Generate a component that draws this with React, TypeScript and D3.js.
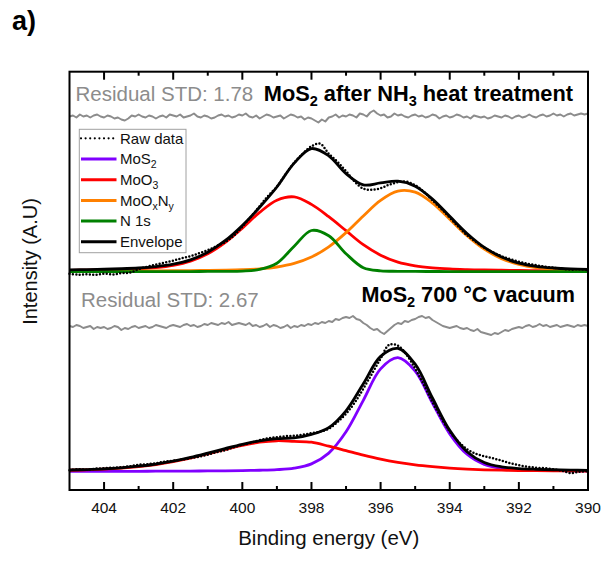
import React from 'react';
import * as d3 from 'd3';

// ---------- data ----------
const E_START = 405;
const FIT_STEP = 0.5;   // grid of fitted components (405 -> 390)
const RAW_STEP = 0.25;  // grid of raw data
const RES_STEP = 0.1;   // grid of residuals

const xTicksMajor = [404, 402, 400, 398, 396, 394, 392, 390];
const xTicksMinor = [403, 401, 399, 397, 395, 393, 391];

// Panel 1: MoS2 after NH3 heat treatment
const topMoO3 = [1.32, 1.55, 1.84, 2.25, 2.9, 4.1, 6.4, 10.6, 17.96, 29.1, 43.6, 59.3, 71.5, 74.8, 67.3, 55.0, 41.0, 27.0, 16.5, 9.5, 5.8, 3.8, 2.7, 2.1, 1.7, 1.45, 1.25, 1.09, 0.95, 0.84, 0.75];
const topN1s = [0.05, 0.05, 0.06, 0.07, 0.08, 0.1, 0.13, 0.17, 0.23, 0.32, 0.61, 2.23, 8.5, 25.5, 41.2, 36.0, 18.0, 4.0, 0.9, 0.41, 0.27, 0.2, 0.15, 0.12, 0.1, 0.08, 0.07, 0.06, 0.05, 0.05, 0.04];
const topMoOxNy = [0.46, 0.51, 0.57, 0.63, 0.72, 0.81, 0.93, 1.08, 1.28, 1.56, 2.03, 2.91, 4.7, 8.23, 14.6, 24.9, 39.1, 55.8, 71.4, 80.6, 79.5, 68.6, 52.5, 36.0, 22.5, 13.1, 7.3, 4.2, 2.7, 1.9, 1.5];
const topRaw = [-2.0, -3.0, -2.5, -3.2, -2.0, -2.8, -1.5, -1.0, 2.5, 5.0, 7.0, 9.0, 11.0, 13.5, 15.5, 18.5, 21.5, 25.5, 29.5, 36.0, 45.0, 55.0, 65.5, 76.0, 85.0, 97.5, 109.0, 118.0, 125.5, 128.0, 118.0, 110.0, 100.5, 90.0, 83.0, 82.0, 83.5, 87.0, 89.5, 90.0, 86.5, 80.0, 71.5, 63.0, 54.0, 45.0, 36.5, 30.0, 24.0, 19.5, 15.5, 12.5, 10.0, 8.0, 6.5, 5.0, 4.0, 3.0, 2.0, 2.5, 1.5];
const topResidual = [
  0, 1, -1, 2, 0, 1, -1, 1, 2, 0,
  -1, 1, 0, -2, -1, -3, -4, -2, 1, 0,
  2, 0, -1, 1, 0, -2, 0, 1, -1, 2,
  1, 0, 2, -1, 0, 1, 3, 0, -1, 1,
  0, -2, -1, 1, 2, 0, 1, -1, 0, 2,
  1, 3, 0, -1, 1, -2, 0, 2, 1, -1,
  0, 1, -2, 0, 2, 1, -1, 0, -3, -1,
  -2, -4, -6, -3, -5, -1, 0, 2, -1, 1,
  0, 2, 1, -1, 3, 2, 0, 4, 6, 3,
  1, 2, -1, 0, 3, 1, 2, 0, -1, 1,
  2, 0, 1, -1, 0, 2, 1, -2, 0, 1,
  -1, 0, 2, 1, -1, 0, -2, 1, 0, -1,
  0, -2, -1, 1, 0, -1, 1, 0, -2, 0,
  1, -1, 0, 2, 0, -1, 1, 2, 0, 1,
  3, 1, 2, 0, 2, 3, 1, 2, 3, 2,
  3,
];

// Panel 2: MoS2 700 °C vacuum
const botMoS2 = [0.27, 0.30, 0.33, 0.37, 0.42, 0.48, 0.56, 0.65, 0.77, 0.92, 1.13, 1.44, 2.03, 3.54, 7.8, 18.6, 39.9, 71.4, 102.8, 114.0, 100.7, 68.7, 37.8, 17.4, 7.3, 3.36, 1.97, 1.41, 1.11, 0.91, 0.76];
const botMoO3 = [1.44, 1.87, 2.53, 3.54, 5.06, 7.19, 10.06, 13.6, 17.8, 22.2, 26.3, 29.5, 30.96, 30.3, 29.5, 25.5, 21.0, 16.5, 12.5, 9.3, 6.8, 5.0, 3.6, 2.6, 1.9, 1.5, 1.2, 1.0, 0.85, 0.75, 0.65];
const botRaw = [1.5, 2.5, 2.0, 3.0, 3.5, 4.0, 4.5, 5.5, 7.0, 7.5, 8.5, 10.0, 11.0, 12.0, 13.5, 15.0, 17.0, 19.5, 21.5, 24.5, 27.0, 29.0, 31.5, 33.5, 34.5, 35.5, 36.0, 37.0, 38.5, 40.0, 43.0, 49.5, 58.0, 69.0, 83.0, 98.0, 113.0, 127.0, 126.0, 117.0, 103.0, 87.0, 69.5, 54.0, 40.0, 30.0, 22.5, 18.0, 15.5, 13.5, 11.0, 8.5, 6.5, 5.0, 4.0, 3.5, 2.5, 1.0, -1.5, 0.0, 0.5];
const botResidual = [
  0, -1, 1, 0, -2, -1, 0, -3, -1, -2,
  -1, -3, -2, 0, -1, -4, -2, -3, -1, 0,
  -2, -1, 0, -2, -1, 1, 0, -1, -2, 0,
  1, 0, -1, 1, 2, 0, 1, -1, 0, 2,
  1, 3, 2, 1, 3, 2, 4, 1, 2, 3,
  2, 1, 3, 0, 1, -1, 0, 2, -1, 1,
  0, -2, -1, 1, -2, 0, -1, 1, 0, 2,
  1, 3, 2, 4, 3, 5, 4, 7, 6, 8,
  9, 8, 10, 7, 6, 3, 1, -2, -4, -3,
  -6, -8, -5, -2, 1, 3, 2, 5, 4, 6,
  7, 9, 10, 8, 9, 6, 4, 2, 0, -1,
  -2, -1, 0, -2, -3, -2, -4, -5, -3, -6,
  -7, -8, -9, -7, -8, -6, -4, -5, -3, -2,
  -1, -2, 0, 1, -1, 0, 2, 0, 1, -1,
  0, 1, -1, 0, 1, 0, -1, 1, 0, 1,
  0,
];

// ---------- layout ----------
const W = 603;
const H = 561;
const P = { left: 69.5, right: 588, top: 71.7, bottom: 490 };
const TOP_BASE = 271.7;
const BOT_BASE = 471.7;
const RES_LEVEL_TOP = 155.2;
const RES_LEVEL_BOT = 145.7;

const COLORS = {
  MoS2: '#8000ff',
  MoO3: '#ff0000',
  MoOxNy: '#ff8000',
  N1s: '#008000',
  env: '#000000',
  raw: '#000000',
  resid: '#8c8c8c',
  text: '#111111',
};
const FONT = '"Liberation Sans", Arial, sans-serif';

const energies = (step: number, n: number) =>
  Array.from({ length: n }, (_, i) => +(E_START - i * step).toFixed(3));

const x = d3.scaleLinear().domain([405, 390]).range([P.left, P.right]);
const yTop = d3.scaleLinear().domain([0, 200]).range([TOP_BASE, TOP_BASE - 200]);
const yBot = d3.scaleLinear().domain([0, 200]).range([BOT_BASE, BOT_BASE - 200]);

type Pt = [number, number];
const zip = (step: number, vals: number[]): Pt[] => {
  const e = energies(step, vals.length);
  return vals.map((v, i) => [e[i], v]);
};
const sum = (...arrs: number[][]) => arrs[0].map((_, i) => arrs.reduce((s, a) => s + a[i], 0));

const smooth = (y: d3.ScaleLinear<number, number>) =>
  d3.line<Pt>().x(d => x(d[0])).y(d => y(d[1])).curve(d3.curveCatmullRom.alpha(0.5));
const jagged = (y: d3.ScaleLinear<number, number>, level: number) =>
  d3.line<Pt>().x(d => x(d[0])).y(d => y(level + d[1])).curve(d3.curveLinear);

const topEnvelope = sum(topMoO3, topN1s, topMoOxNy);
const botEnvelope = sum(botMoS2, botMoO3);

const LW = 2.8;

function Panel({ y, comps, env, raw, resid, level }: any) {
  const sLine = smooth(y);
  const rLine = jagged(y, level);
  return (
    <g>
      <path d={rLine(zip(RES_STEP, resid)) || ''} fill="none" stroke={COLORS.resid} strokeWidth={2} strokeLinejoin="round" />
      {comps.map((c: any, i: number) => (
        <path key={i} d={sLine(zip(FIT_STEP, c.values)) || ''} fill="none" stroke={c.color} strokeWidth={LW} />
      ))}
      <path d={sLine(zip(FIT_STEP, env)) || ''} fill="none" stroke={COLORS.env} strokeWidth={LW} />
      <path d={sLine(zip(RAW_STEP, raw)) || ''} fill="none" stroke={COLORS.raw} strokeWidth={2.5}
        strokeDasharray="0 3.4" strokeLinecap="round" />
    </g>
  );
}

const legendItems = [
  { key: 'raw', color: COLORS.raw, dotted: true },
  { key: 'MoS2', color: COLORS.MoS2 },
  { key: 'MoO3', color: COLORS.MoO3 },
  { key: 'MoOxNy', color: COLORS.MoOxNy },
  { key: 'N1s', color: COLORS.N1s },
  { key: 'env', color: COLORS.env },
];

function LegendLabel({ k }: { k: string }) {
  const sub = { fontSize: 10.5 };
  if (k === 'raw') return <>Raw data</>;
  if (k === 'MoS2') return <>MoS<tspan dy={4} style={sub}>2</tspan></>;
  if (k === 'MoO3') return <>MoO<tspan dy={4} style={sub}>3</tspan></>;
  if (k === 'MoOxNy')
    return <>MoO<tspan dy={4} style={sub}>x</tspan><tspan dy={-4}>N</tspan><tspan dy={4} style={sub}>y</tspan></>;
  if (k === 'N1s') return <>N 1s</>;
  return <>Envelope</>;
}

export default function App() {
  const LEG = { x0: 79.3, y0: 129.3, w: 106.7, h: 123.4, row0: 138.3, dy: 20.7, lx0: 81, lx1: 116.5, tx: 120 };
  return (
    <svg width={W} height={H} viewBox={`0 0 ${W} ${H}`}
      style={{ position: 'absolute', left: 0, top: 0, background: '#fff' }}
      fontFamily={FONT}>
      <rect x={0} y={0} width={W} height={H} fill="#fff" />
      <text x={12} y={30} fontSize={27} fontWeight="bold" fill="#000">a)</text>

      <Panel y={yTop} level={RES_LEVEL_TOP} resid={topResidual} raw={topRaw} env={topEnvelope}
        comps={[
          { values: topMoO3, color: COLORS.MoO3 },
          { values: topMoOxNy, color: COLORS.MoOxNy },
          { values: topN1s, color: COLORS.N1s },
        ]} />
      <Panel y={yBot} level={RES_LEVEL_BOT} resid={botResidual} raw={botRaw} env={botEnvelope}
        comps={[
          { values: botMoS2, color: COLORS.MoS2 },
          { values: botMoO3, color: COLORS.MoO3 },
        ]} />

      {/* panel texts */}
      <text x={75.5} y={101} fontSize={20.5} fill={COLORS.resid}>Residual STD: 1.78</text>
      <text x={573} y={100.7} fontSize={21.8} fontWeight="bold" fill="#000" textAnchor="end">
        MoS<tspan dy={5} fontSize={14.5}>2</tspan><tspan dy={-5}> after NH</tspan><tspan dy={5} fontSize={14.5}>3</tspan><tspan dy={-5}> heat treatment</tspan>
      </text>
      <text x={81} y={307.3} fontSize={20.5} fill={COLORS.resid}>Residual STD: 2.67</text>
      <text x={575} y={302.3} fontSize={21.6} fontWeight="bold" fill="#000" textAnchor="end">
        MoS<tspan dy={5} fontSize={14.5}>2</tspan><tspan dy={-5}> 700 °C vacuum</tspan>
      </text>

      {/* legend */}
      <rect x={LEG.x0} y={LEG.y0} width={LEG.w} height={LEG.h} fill="#fff" stroke="#a0a0a0" strokeWidth={1} />
      {legendItems.map((it, i) => {
        const yy = LEG.row0 + i * LEG.dy;
        return (
          <g key={it.key}>
            {it.dotted ? (
              <line x1={LEG.lx0} x2={LEG.lx1} y1={yy} y2={yy} stroke={it.color} strokeWidth={2.2}
                strokeDasharray="0 4.6" strokeLinecap="round" />
            ) : (
              <line x1={LEG.lx0} x2={LEG.lx1} y1={yy} y2={yy} stroke={it.color} strokeWidth={3} />
            )}
            <text x={LEG.tx} y={yy + 5.3} fontSize={15} fill={COLORS.text}><LegendLabel k={it.key} /></text>
          </g>
        );
      })}

      {/* frame */}
      <rect x={P.left} y={P.top} width={P.right - P.left} height={P.bottom - P.top} fill="none" stroke="#000" strokeWidth={2} />

      {/* ticks */}
      {xTicksMajor.map(t => (
        <g key={'M' + t}>
          <line x1={x(t)} x2={x(t)} y1={P.bottom} y2={P.bottom - 8} stroke="#000" strokeWidth={2} />
          <line x1={x(t)} x2={x(t)} y1={P.top} y2={P.top + 8} stroke="#000" strokeWidth={2} />
          <text x={x(t)} y={512.7} fontSize={15.5} textAnchor="middle" fill={COLORS.text}>{t}</text>
        </g>
      ))}
      {xTicksMinor.map(t => (
        <g key={'m' + t}>
          <line x1={x(t)} x2={x(t)} y1={P.bottom} y2={P.bottom - 4} stroke="#000" strokeWidth={2} />
          <line x1={x(t)} x2={x(t)} y1={P.top} y2={P.top + 4} stroke="#000" strokeWidth={2} />
        </g>
      ))}

      {/* axis titles */}
      <text x={(P.left + P.right) / 2} y={545} fontSize={20.5} textAnchor="middle" fill={COLORS.text}>Binding energy (eV)</text>
      <text transform={`translate(36.7, 261.5) rotate(-90)`} fontSize={20} textAnchor="middle" fill={COLORS.text}>Intensity (A.U)</text>
    </svg>
  );
}
